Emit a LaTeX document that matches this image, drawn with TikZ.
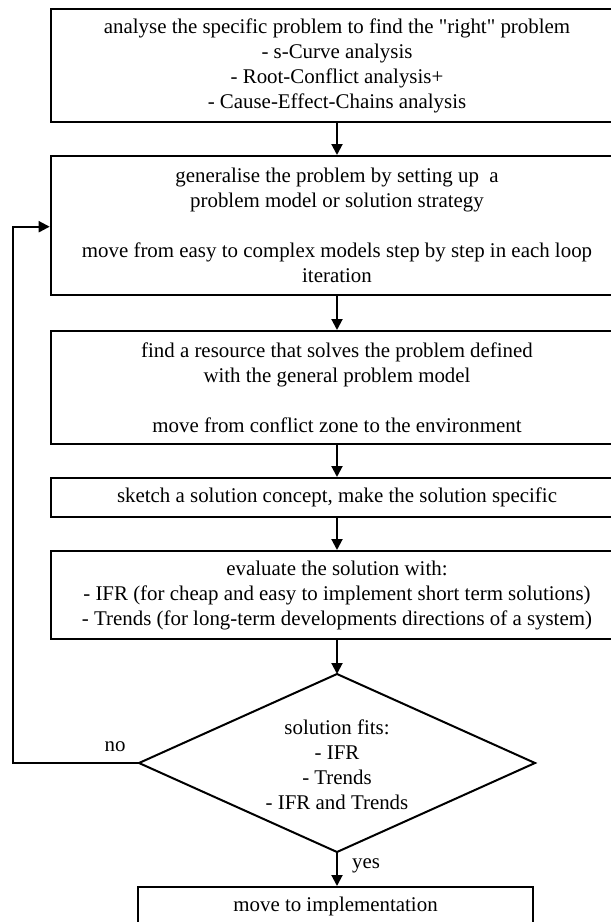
\documentclass[tikz,border=0pt]{standalone}
\usepackage{fontspec}
\setmainfont{Liberation Serif}
\usetikzlibrary{arrows.meta}
\tikzset{
  txt/.style={font=\fontsize{20.9}{25}\selectfont},
  box/.style={draw, line width=2pt, rectangle, minimum width=572.6pt, inner sep=0pt, align=center, txt},
  dtext/.style={inner sep=0pt, align=center, txt},
  dline/.style={line width=2pt, line join=miter},
  lbl/.style={txt, inner sep=0pt},
  flow/.style={line width=2pt, -{Triangle[length=11pt,width=11pt]}},
}
\begin{document}
\begin{tikzpicture}[x=1pt,y=-1pt]
\useasboundingbox (0,0) rectangle (611,922);
\clip (0,0) rectangle (611,922);
\node[box, minimum height=113pt] (b1) at (337,65.5) {analyse the specific problem to find the \textquotedbl right\textquotedbl{} problem\\- s-Curve analysis\\- Root-Conflict analysis+\\- Cause-Effect-Chains analysis};
\node[box, minimum height=139pt] (b2) at (337,225.5) {generalise the problem by setting up\ \ a\\problem model or solution strategy\\[25pt]move from easy to complex models step by step in each loop\\iteration};
\node[box, minimum height=113pt] (b3) at (337,387.5) {find a resource that solves the problem defined\\with the general problem model\\[25pt]move from conflict zone to the environment};
\node[box, minimum height=39pt] (b4) at (337,497.5) {sketch a solution concept, make the solution specific};
\node[box, minimum height=88pt] (b5) at (337,595) {evaluate the solution with:\\- IFR (for cheap and easy to implement short term solutions)\\- Trends (for long-term developments directions of a system)};
\coordinate (dt) at (337,674);
\coordinate (dr) at (535,763);
\coordinate (db) at (337,852);
\coordinate (dl) at (139,763);
\draw[dline] (dt) -- (dr) -- (db) -- (dl) -- cycle;
\node[dtext] (d) at (337,765) {solution fits:\\- IFR\\- Trends\\- IFR and Trends};
\node[box, minimum width=395pt, minimum height=39pt] (b6) at (335.5,906.5) {move to implementation};
\coordinate (lc1) at (12.7,763);
\coordinate (lc2) at (12.7,226.7);
\coordinate (lc3) at (b2.west |- lc2);
\draw[flow] (b1) -- (b2);
\draw[flow] (b2) -- (b3);
\draw[flow] (b3) -- (b4);
\draw[flow] (b4) -- (b5);
\draw[flow] (b5.south -| dt) -- (dt);
\draw[flow] (db) -- (db |- b6.north);
\draw[flow] (dl) -- (lc1) -- (lc2) -- (lc3);
\node[lbl] (no) at (115,747) {no};
\node[lbl] (yes) at (366,866) {yes};
\end{tikzpicture}
\end{document}
